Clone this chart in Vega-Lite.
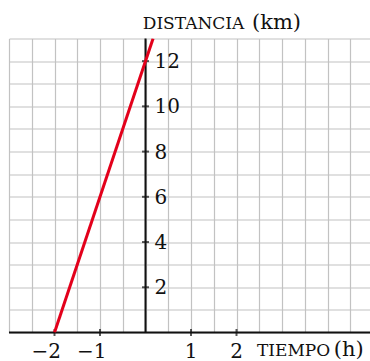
{
  "$schema": "https://vega.github.io/schema/vega-lite/v6.json",
  "width": 361,
  "height": 294,
  "autosize": "none",
  "padding": {"left": 9, "top": 38.5, "right": 0, "bottom": 28.5},
  "config": {
    "view": {"stroke": null},
    "font": "DejaVu Serif",
    "axis": {"labels": false, "ticks": false, "domain": false, "grid": true, "gridColor": "#c2c2c2", "gridWidth": 1.2},
    "axisX": {"tickCount": 16},
    "axisY": {"tickCount": 13}
  },
  "datasets": {
    "line": [{"t": -2, "d": 0}, {"t": 0.1667, "d": 13}],
    "xticks": [{"t": -2, "d": 0, "lab": "−2"}, {"t": -1, "d": 0, "lab": "−1"}, {"t": 1, "d": 0, "lab": "1"}, {"t": 2, "d": 0, "lab": "2"}],
    "yticks": [{"t": 0, "d": 2, "lab": "2"}, {"t": 0, "d": 4, "lab": "4"}, {"t": 0, "d": 6, "lab": "6"}, {"t": 0, "d": 8, "lab": "8"}, {"t": 0, "d": 10, "lab": "10"}, {"t": 0, "d": 12, "lab": "12"}],
    "capsTitles": [{"t": -0.06, "d": 13.4, "lab": "DISTANCIA"}, {"t": 2.45, "d": -1.05, "lab": "TIEMPO"}],
    "parenTitles": [{"t": 2.34, "d": 13.4, "lab": "(km)"}, {"t": 4.14, "d": -1.05, "lab": "(h)"}]
  },
  "layer": [
    {
      "data": {"name": "line"},
      "mark": {"type": "point", "opacity": 0},
      "encoding": {
        "x": {"field": "t", "type": "quantitative", "title": null,
          "scale": {"domain": [-3, 4.934], "nice": false, "zero": false}},
        "y": {"field": "d", "type": "quantitative", "title": null,
          "scale": {"domain": [0, 13], "nice": false}}
      }
    },
    {
      "data": {"name": "line"},
      "transform": [{"filter": "datum.t < 0"}],
      "mark": {"type": "rule", "color": "#111", "strokeWidth": 2},
      "encoding": {"y": {"field": "d", "type": "quantitative", "title": null}}
    },
    {
      "data": {"name": "yticks"},
      "transform": [{"filter": "datum.d == 2"}],
      "mark": {"type": "rule", "color": "#111", "strokeWidth": 2},
      "encoding": {"x": {"field": "t", "type": "quantitative", "title": null}}
    },
    {
      "data": {"name": "xticks"},
      "mark": {"type": "tick", "orient": "vertical", "color": "#111", "size": 7, "thickness": 2},
      "encoding": {
        "x": {"field": "t", "type": "quantitative", "title": null},
        "y": {"field": "d", "type": "quantitative", "title": null}
      }
    },
    {
      "data": {"name": "yticks"},
      "mark": {"type": "tick", "orient": "horizontal", "color": "#111", "size": 7, "thickness": 2},
      "encoding": {
        "x": {"field": "t", "type": "quantitative", "title": null},
        "y": {"field": "d", "type": "quantitative", "title": null}
      }
    },
    {
      "data": {"name": "line"},
      "mark": {"type": "line", "color": "#e3001b", "strokeWidth": 3, "clip": true},
      "encoding": {
        "x": {"field": "t", "type": "quantitative", "title": null},
        "y": {"field": "d", "type": "quantitative", "title": null}
      }
    },
    {
      "data": {"name": "xticks"},
      "transform": [{"filter": "datum.t < 0"}],
      "mark": {"type": "text", "font": "DejaVu Serif", "fontSize": 20, "align": "right", "baseline": "alphabetic", "dx": 6.5, "dy": 25, "color": "#111"},
      "encoding": {
        "x": {"field": "t", "type": "quantitative", "title": null},
        "y": {"field": "d", "type": "quantitative", "title": null},
        "text": {"field": "lab"}
      }
    },
    {
      "data": {"name": "xticks"},
      "transform": [{"filter": "datum.t > 0"}],
      "mark": {"type": "text", "font": "DejaVu Serif", "fontSize": 20, "align": "center", "baseline": "alphabetic", "dy": 25, "color": "#111"},
      "encoding": {
        "x": {"field": "t", "type": "quantitative", "title": null},
        "y": {"field": "d", "type": "quantitative", "title": null},
        "text": {"field": "lab"}
      }
    },
    {
      "data": {"name": "yticks"},
      "mark": {"type": "text", "font": "DejaVu Serif", "fontSize": 20, "align": "left", "baseline": "alphabetic", "dx": 9, "dy": 7, "color": "#111"},
      "encoding": {
        "x": {"field": "t", "type": "quantitative", "title": null},
        "y": {"field": "d", "type": "quantitative", "title": null},
        "text": {"field": "lab"}
      }
    },
    {
      "data": {"name": "capsTitles"},
      "mark": {"type": "text", "font": "DejaVu Serif", "fontSize": 17, "align": "left", "baseline": "alphabetic", "color": "#111"},
      "encoding": {
        "x": {"field": "t", "type": "quantitative", "title": null},
        "y": {"field": "d", "type": "quantitative", "title": null},
        "text": {"field": "lab"}
      }
    },
    {
      "data": {"name": "parenTitles"},
      "mark": {"type": "text", "font": "DejaVu Serif", "fontSize": 21, "align": "left", "baseline": "alphabetic", "color": "#111"},
      "encoding": {
        "x": {"field": "t", "type": "quantitative", "title": null},
        "y": {"field": "d", "type": "quantitative", "title": null},
        "text": {"field": "lab"}
      }
    }
  ]
}
